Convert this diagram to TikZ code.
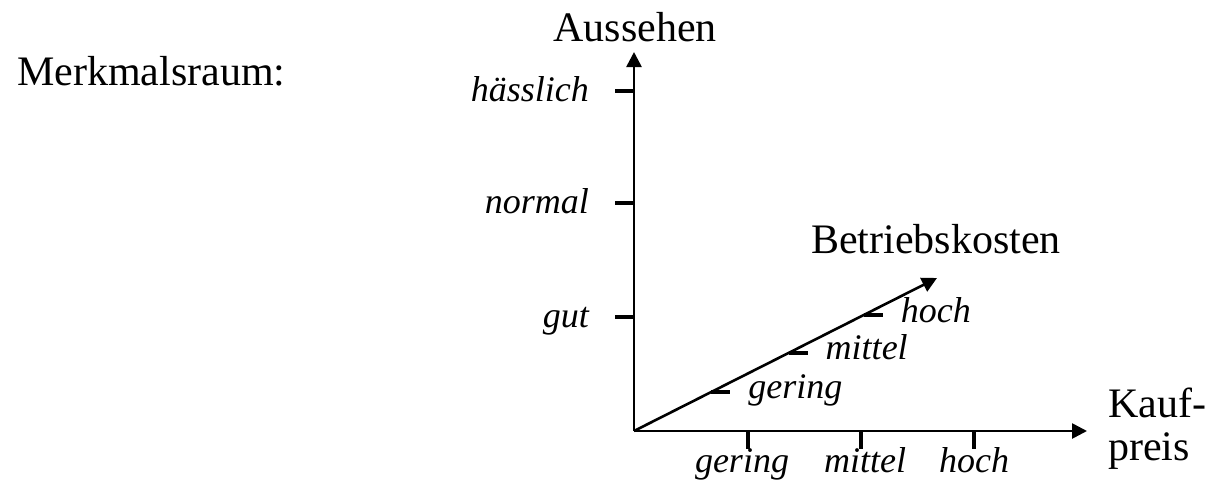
\documentclass[tikz,border=0pt]{standalone}
\usepackage{fontspec}
\setmainfont{Liberation Serif}
\usetikzlibrary{arrows.meta,calc}
\begin{document}
\begin{tikzpicture}[x=1pt,y=-1pt,
  axis/.style={line width=2.6pt,-{Triangle[length=15pt,width=15pt]}},
  tick/.style={line width=4.2pt},
  big/.style={inner sep=0pt,font=\fontsize{42}{43}\selectfont},
  lab/.style={inner sep=0pt,font=\fontsize{36}{38}\selectfont\itshape}]
\useasboundingbox (0,0) rectangle (1209,482);
% title
\node[big,anchor=base west] (title) at (17,85) {Merkmalsraum:};
% axes end points
\coordinate (O) at (634,431);
\coordinate (Ytip) at (634,52);
\coordinate (Xtip) at (1087,431);
\coordinate (Dtip) at (937,278);
\draw[axis] (O) -- (Ytip);
\draw[axis] (O) -- (Xtip);
\draw[axis] (O) -- (Dtip);
% axis titles
\node[big,anchor=base] (aus) at (635,41) {Aussehen};
\node[big,anchor=base] (betr) at (936,253) {Betriebskosten};
\node[big,anchor=north west,align=left] (kauf) at (1108,388) {Kauf-\\preis};
% y ticks
\foreach \n/\y/\t in {h/91/hässlich, n/203/normal, g/317/gut}{
  \coordinate (y\n) at (634,\y);
  \coordinate (y\n s) at (615,\y);
  \draw[tick] (y\n) -- (y\n s);
  \node[lab,anchor=base east] (yl\n) at ($(y\n s)+(-26,10)$) {\t};
}
% x ticks
\foreach \n/\x/\t/\dx in {g/748/gering/-6, m/861/mittel/4, h/974/hoch/0}{
  \coordinate (x\n) at (\x,431);
  \coordinate (x\n s) at (\x,449);
  \draw[tick] (x\n) -- (x\n s);
  \node[lab,anchor=base] (xl\n) at ($(x\n)+(\dx,41)$) {\t};
}
% diagonal ticks
\foreach \n/\f/\t in {g/0.255/gering, m/0.51/mittel, h/0.758/hoch}{
  \coordinate (d\n) at ($(O)!\f!(Dtip)$);
  \coordinate (d\n s) at ($(d\n)+(19,0)$);
  \draw[tick] (d\n) -- (d\n s);
  \node[lab,anchor=base west] (dl\n) at ($(d\n s)+(18,7)$) {\t};
}
\end{tikzpicture}
\end{document}
